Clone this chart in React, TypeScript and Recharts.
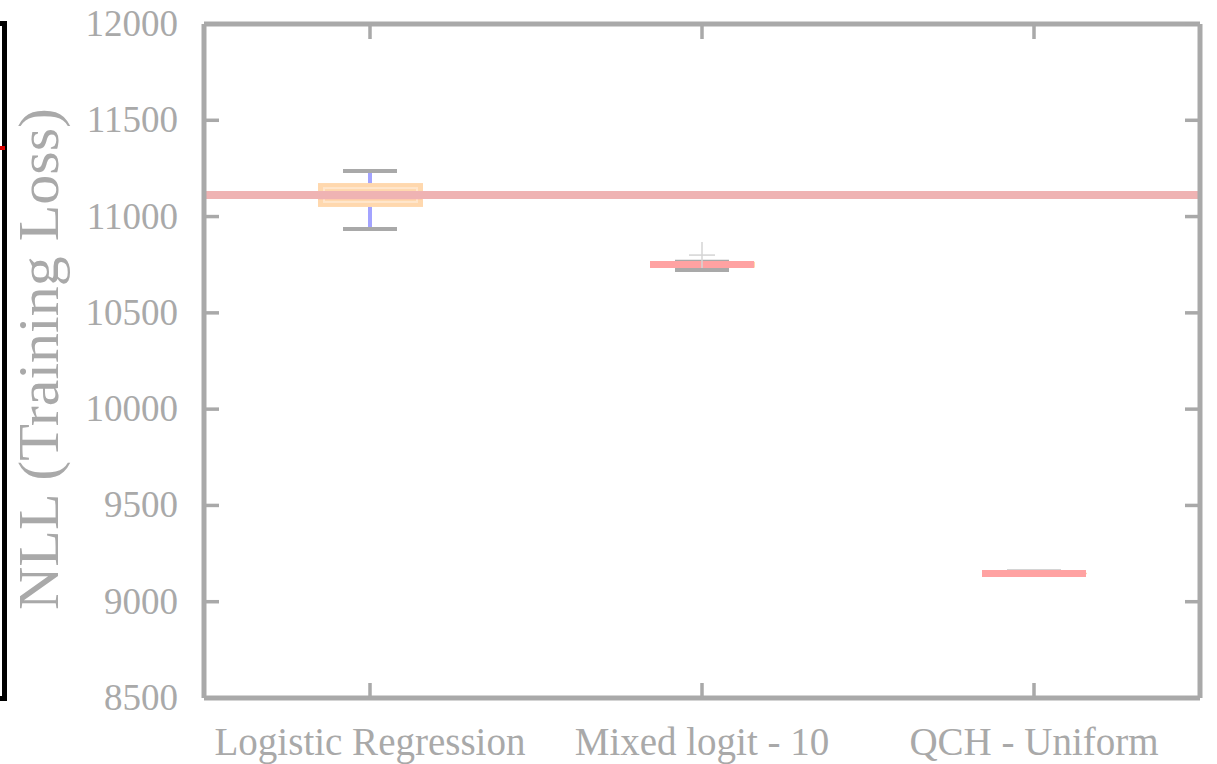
import React from 'react'
import { ComposedChart, Bar, Scatter, XAxis, YAxis, ReferenceLine } from 'recharts'

const categories = ['Logistic Regression', 'Mixed logit - 10', 'QCH - Uniform']
const whiskerLow = [10935, 10722, 9142]
const quartile1 = [11050, 10735, 9143]
const medians = [11108, 10751, 9146]
const quartile3 = [11174, 10765, 9150]
const whiskerHigh = [11237, 10766, 9157]
const outliers: (number | null)[] = [null, 10800, null]
const yTicks = [8500, 9000, 9500, 10000, 10500, 11000, 11500, 12000]
const referenceLoss = 11112

const GREY = '#a9a9a9'
const FONT = '"Liberation Serif", "Times New Roman", serif'

const rows = categories.map((name, i) => ({
  name,
  box: [quartile1[i], quartile3[i]],
  whisker: [whiskerLow[i], whiskerHigh[i]],
  lo: whiskerLow[i],
  q1: quartile1[i],
  median: medians[i],
  q3: quartile3[i],
  hi: whiskerHigh[i],
  outlier: outliers[i],
}))

function BoxShape({ x, y, width, height }: any) {
  const top = Math.min(y, y + height)
  const h = Math.abs(height)
  return (
    <g>
      <rect x={x} y={top} width={width} height={h} fill="#ffd8ae" />
      <rect x={x + 6} y={top + 5} width={width - 12} height={Math.max(h - 10, 0)} fill="none" stroke="#ffe6cc" strokeWidth={2} />
    </g>
  )
}

// whiskers, caps and the median, all placed from the whisker range pixels
function WhiskerShape({ x, y, width, height, payload }: any) {
  const top = Math.min(y, y + height)
  const bottom = Math.max(y, y + height)
  const cx = x + width / 2
  const span = payload.hi - payload.lo
  const at = (v: number) => (span === 0 ? top : top + ((payload.hi - v) / span) * (bottom - top))
  const q3y = at(payload.q3)
  const q1y = at(payload.q1)
  const my = at(payload.median)
  return (
    <g>
      <line x1={cx} x2={cx} y1={top} y2={q3y} stroke="#a3a3ff" strokeWidth={4} />
      <line x1={cx} x2={cx} y1={q1y} y2={bottom} stroke="#a3a3ff" strokeWidth={4} />
      <line x1={x} x2={x + width} y1={top} y2={top} stroke={GREY} strokeWidth={4} />
      <line x1={x} x2={x + width} y1={bottom} y2={bottom} stroke={GREY} strokeWidth={4} />
      <line x1={cx - 52} x2={cx + 52} y1={my} y2={my} stroke="#ffa2a2" strokeWidth={7} />
    </g>
  )
}

function PlusShape({ cx, cy, payload }: any) {
  if (payload?.outlier == null || !isFinite(cy)) return <g />
  return (
    <g stroke="#d4d4d4" strokeWidth={1.5}>
      <line x1={cx - 13} x2={cx + 13} y1={cy} y2={cy} />
      <line x1={cx} x2={cx} y1={cy - 13} y2={cy + 13} />
    </g>
  )
}

function BottomTick({ x, y, payload }: any) {
  return (
    <g>
      <line x1={x} x2={x} y1={y} y2={y - 15} stroke={GREY} strokeWidth={3.5} />
      <text x={x} y={y + 57} textAnchor="middle" fontSize={39} fill={GREY} fontFamily={FONT}>
        {payload.value}
      </text>
    </g>
  )
}

function TopTick({ x, y }: any) {
  return <line x1={x} x2={x} y1={y} y2={y + 15} stroke={GREY} strokeWidth={3.5} />
}

function LeftTick({ x, y, payload }: any) {
  return (
    <g>
      <line x1={x} x2={x + 15} y1={y} y2={y} stroke={GREY} strokeWidth={3.5} />
      <text x={x - 26} y={y + 12} textAnchor="end" fontSize={37} fill={GREY} fontFamily={FONT}>
        {payload.value}
      </text>
    </g>
  )
}

function RightTick({ x, y }: any) {
  return <line x1={x} x2={x - 15} y1={y} y2={y} stroke={GREY} strokeWidth={3.5} />
}

function YLabel(props: any) {
  const vb = props.viewBox || { x: 0, y: 24, width: 204, height: 674 }
  const cy = vb.y + vb.height / 2 - 2
  return (
    <text
      transform={`translate(${vb.x + 58}, ${cy}) rotate(-90)`}
      textAnchor="middle"
      fontSize={56}
      textLength={502}
      lengthAdjust="spacingAndGlyphs"
      fill={GREY}
      fontFamily={FONT}
    >
      NLL (Training Loss)
    </text>
  )
}

const frameLine = { stroke: GREY, strokeWidth: 5 }

export default function App() {
  return (
    <div style={{ position: 'absolute', left: 0, top: 0, width: 1217, height: 764, background: '#fff', overflow: 'hidden' }}>
      {/* edge of the neighbouring panel, cut off on the left */}
      <div style={{ position: 'absolute', left: -20, top: 21, width: 27, height: 680, border: '5px solid #000', boxSizing: 'border-box' }} />
      <div style={{ position: 'absolute', left: 0, top: 146, width: 5, height: 4, background: '#d00' }} />
      <ComposedChart
        width={1217}
        height={764}
        data={rows}
        margin={{ top: 23, right: 16, bottom: 0, left: 0 }}
        style={{ position: 'absolute', left: 0, top: 0 }}
      >
        <XAxis
          dataKey="name"
          height={66}
          axisLine={frameLine}
          strokeWidth={5}
          tickLine={false}
          tickSize={0}
          tickMargin={0}
          tick={<BottomTick />}
          interval={0}
        />
        <XAxis
          xAxisId="top"
          dataKey="name"
          orientation="top"
          height={1}
          axisLine={frameLine}
          strokeWidth={5}
          tickLine={false}
          tickSize={0}
          tickMargin={0}
          tick={<TopTick />}
          interval={0}
        />
        <YAxis
          type="number"
          domain={[8500, 12000]}
          ticks={yTicks}
          allowDataOverflow
          width={204}
          axisLine={frameLine}
          strokeWidth={5}
          tickLine={false}
          tickSize={0}
          tickMargin={0}
          tick={<LeftTick />}
          interval={0}
          label={{ content: <YLabel /> }}
        />
        <YAxis
          yAxisId="right"
          orientation="right"
          type="number"
          domain={[8500, 12000]}
          ticks={yTicks}
          allowDataOverflow
          width={1}
          axisLine={frameLine}
          strokeWidth={5}
          tickLine={false}
          tickSize={0}
          tickMargin={0}
          tick={<RightTick />}
          interval={0}
        />
        <Bar dataKey="box" barSize={105} shape={<BoxShape />} isAnimationActive={false} />
        <Bar xAxisId="top" dataKey="whisker" barSize={54} shape={<WhiskerShape />} isAnimationActive={false} />
        <ReferenceLine y={referenceLoss} stroke="#efb3b3" strokeWidth={8} />
        <Scatter yAxisId="right" dataKey="outlier" shape={<PlusShape />} isAnimationActive={false} />
      </ComposedChart>
    </div>
  )
}
